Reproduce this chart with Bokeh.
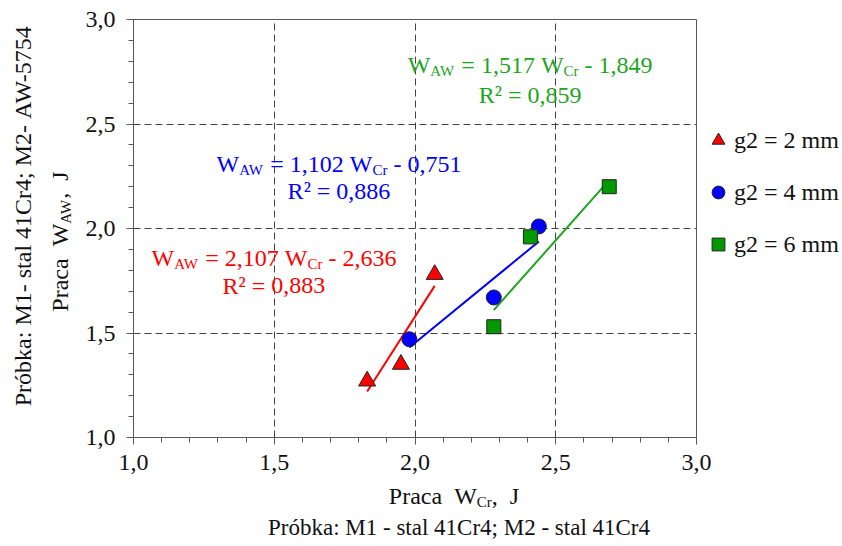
import math
from bokeh.plotting import figure
from bokeh.models import Range1d, FixedTicker, CustomJSTickFormatter, Label
from bokeh.layouts import row, column
from bokeh.embed import file_html
from bokeh.resources import INLINE

# ---- data ----
x_g2_2 = [1.83, 1.95, 2.07]
y_g2_2 = [1.27, 1.35, 1.78]
x_g2_4 = [1.98, 2.28, 2.44]
y_g2_4 = [1.47, 1.67, 2.01]
x_g2_6 = [2.28, 2.41, 2.69]
y_g2_6 = [1.53, 1.96, 2.20]

series_names = ["g2 = 2 mm", "g2 = 4 mm", "g2 = 6 mm"]
fit_slope = [2.107, 1.102, 1.517]
fit_icept = [-2.636, -0.751, -1.849]
fit_r2 = ["0,883", "0,886", "0,859"]
fit_a_txt = ["2,107", "1,102", "1,517"]
fit_b_txt = ["2,636", "0,751", "1,849"]
# annotation anchors (data units): center x, baseline y of first line, second line
ann_x = [1.499, 1.730, 2.409]
ann_y1 = [1.820, 2.270, 2.743]
ann_y2 = [1.687, 2.141, 2.600]

major_ticks = [1.0, 1.5, 2.0, 2.5, 3.0]
minor_ticks = [1.1, 1.2, 1.3, 1.4, 1.6, 1.7, 1.8, 1.9, 2.1, 2.2, 2.3, 2.4, 2.6, 2.7, 2.8, 2.9]
grid_ticks = [1.5, 2.0, 2.5]

RED = "#FF0000"
BLUE = "#0000FF"
GREEN_TXT = "#1FA51F"
GREEN_FILL = "#009A00"
FONT = "'Liberation Serif'"
MAIN = 24
SUB = 15
AXC = "#595959"
TXT = "#111111"

LW = 82          # left title strip width
P_H = 482        # main figure height
B_H = 63         # bottom title strip height
RB = 147         # right border (legend panel)

p = figure(frame_width=563, frame_height=418, min_border_left=50, min_border_top=19,
           min_border_right=RB, min_border_bottom=P_H - 19 - 418,
           x_range=Range1d(1, 3), y_range=Range1d(1, 3),
           output_backend="svg", toolbar_location=None)
p.background_fill_color = "white"
p.border_fill_color = "white"
p.outline_line_color = AXC
p.outline_line_width = 1

fmt = CustomJSTickFormatter(code="return tick.toFixed(1).replace('.', ',');")
for ax in (p.xaxis[0], p.yaxis[0]):
    ax.ticker = FixedTicker(ticks=major_ticks, minor_ticks=minor_ticks)
    ax.formatter = fmt
    ax.axis_line_color = AXC
    ax.major_tick_line_color = AXC
    ax.minor_tick_line_color = AXC
    ax.major_tick_in = 0
    ax.major_tick_out = 7
    ax.minor_tick_in = 0
    ax.minor_tick_out = 5
    ax.major_label_text_font = FONT
    ax.major_label_text_font_size = f"{MAIN}px"
    ax.major_label_text_color = TXT
p.xaxis[0].major_label_standoff = 10
p.yaxis[0].major_label_standoff = 11

for g in (p.xgrid[0], p.ygrid[0]):
    g.ticker = FixedTicker(ticks=grid_ticks)
    g.grid_line_color = "#444444"
    g.grid_line_dash = "7 4"
    g.grid_line_width = 1

# trend lines
xs_all = [x_g2_2, x_g2_4, x_g2_6]
line_cols = [RED, BLUE, GREEN_TXT]
for xs, a, b, c in zip(xs_all, fit_slope, fit_icept, line_cols):
    x0, x1 = min(xs), max(xs)
    p.line([x0, x1], [a * x0 + b, a * x1 + b], line_color=c, line_width=2)

p.scatter(x_g2_2, y_g2_2, marker="triangle", size=17, fill_color=RED, line_color="#222222",
          line_width=1, legend_label=series_names[0])
p.scatter(x_g2_4, y_g2_4, marker="circle", size=15, fill_color=BLUE, line_color="#222222",
          line_width=1, legend_label=series_names[1])
p.scatter(x_g2_6, y_g2_6, marker="square", size=14, fill_color=GREEN_FILL, line_color="#222222",
          line_width=1, legend_label=series_names[2])

lg = p.legend[0]
p.center.remove(lg)
p.add_layout(lg, "right")
lg.location = (6, 174)
lg.border_line_alpha = 0
lg.background_fill_alpha = 0
lg.padding = 0
lg.margin = 0
lg.glyph_width = 32
lg.glyph_height = 38
lg.label_height = 20
lg.spacing = 14
lg.label_standoff = 0
lg.label_text_font = FONT
lg.label_text_font_size = f"{MAIN}px"
lg.label_text_color = TXT

# Times / Liberation Serif advance widths (per 1000 em)
WID = {" ": 250, ",": 250, "-": 333, ".": 250, ":": 278, ";": 278, "=": 564,
       "A": 722, "C": 667, "J": 389, "M": 889, "P": 556, "R": 667, "W": 944,
       "a": 444, "b": 500, "c": 444, "g": 500, "k": 500, "l": 278, "m": 778,
       "ó": 500, "r": 333, "s": 389, "t": 278, "²": 300}


def tw(s, size):
    return sum(WID.get(ch, 500) for ch in s) * size / 1000.0


def rich(fig, segs, x, y, color, main=MAIN, sub=SUB, vertical=False, base_dy=0):
    """segs: list of (text, is_subscript); each word placed separately so spaces survive.
    (x, y) is the visual middle of the main text line, shifted up by base_dy pixels."""
    total = sum(tw(t, sub if s else main) for t, s in segs)
    pos = -total / 2.0
    for t, s in segs:
        size = sub if s else main
        words = t.split(" ")
        for k, w in enumerate(words):
            if w:
                if vertical:
                    xo, yo, ang = (6 if s else 0), pos, math.pi / 2
                else:
                    xo, yo, ang = pos, base_dy - (6 if s else 0), 0
                fig.add_layout(Label(x=x, y=y, text=w, x_offset=xo, y_offset=yo, angle=ang,
                                     text_font=FONT, text_font_size=f"{size}px",
                                     text_color=color, text_align="left",
                                     text_baseline="alphabetic"))
                pos += tw(w, size)
            if k < len(words) - 1:
                pos += tw(" ", size)


ann_cols = [RED, BLUE, GREEN_TXT]
for i in range(3):
    rich(p, [("W", False), ("AW", True), (f" = {fit_a_txt[i]} W", False), ("Cr", True),
             (f" - {fit_b_txt[i]}", False)], ann_x[i], ann_y1[i], ann_cols[i], base_dy=8)
    rich(p, [(f"R² = {fit_r2[i]}", False)], ann_x[i], ann_y2[i], ann_cols[i], base_dy=8)


def strip(w, h):
    f = figure(width=w, height=h, x_range=Range1d(0, w), y_range=Range1d(0, h),
               min_border=0, x_axis_location=None, y_axis_location=None,
               output_backend="svg", toolbar_location=None)
    f.grid.visible = False
    f.outline_line_color = None
    f.background_fill_color = "white"
    f.border_fill_color = "white"
    return f


# left strip: y axis titles (pixel coordinates inside the strip)
pl = strip(LW, P_H)
rich(pl, [("Próbka: M1- stal 41Cr4; M2- AW-5754", False)], 22, P_H - 225, TXT, vertical=True)
rich(pl, [("Praca  W", False), ("AW", True), (",  J", False)], 59, P_H - 256, TXT,
     vertical=True)

# bottom strip: x axis titles
pb = strip(LW + 50 + 563 + RB, B_H)
rich(pb, [("Praca  W", False), ("Cr", True), (",  J", False)], 453.5, B_H - 13.5, TXT)
rich(pb, [("Próbka: M1 - stal 41Cr4; M2 - stal 41Cr4", False)], 458.5, B_H - 45.2, TXT,
     main=23)

layout = column(row(pl, p), pb)
open("out.html", "w").write(file_html(layout, INLINE))
